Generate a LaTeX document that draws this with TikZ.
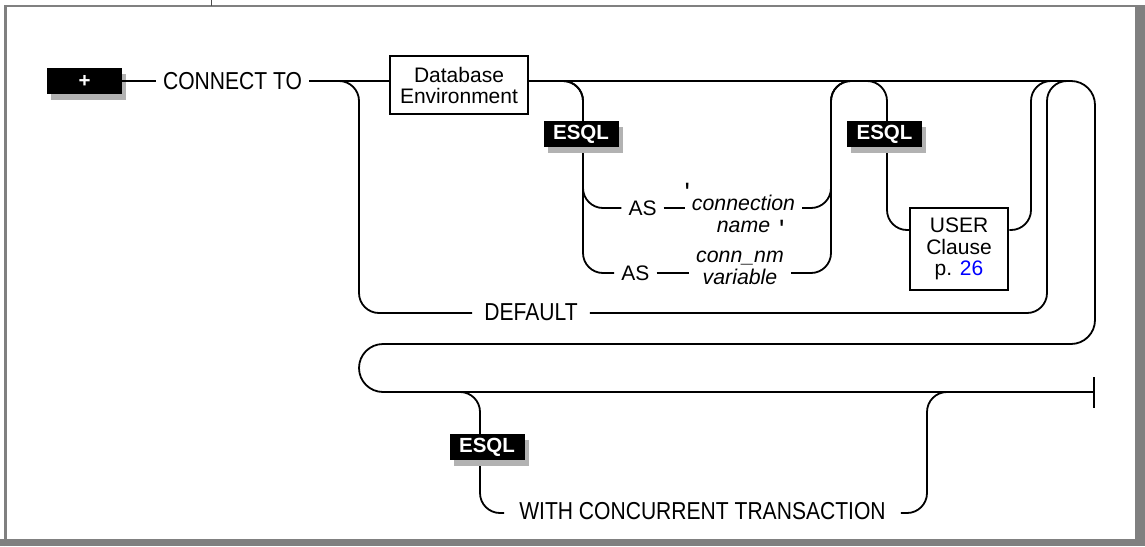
\documentclass[tikz,border=0pt]{standalone}
\usepackage{fontspec}
\setmainfont{Liberation Sans}
\newfontfamily\kwfont{Liberation Sans}[FakeStretch=0.86]
\usepackage{tikz}
\usetikzlibrary{calc,shadows}
\begin{document}
\begin{tikzpicture}[x=1pt,y=-1pt,font=\fontsize{21}{22}\selectfont,
rail/.style={line width=1.8pt,rounded corners=20pt},
kw/.style={inner xsep=7pt,inner ysep=0pt,font=\kwfont\fontsize{24.5}{26}\selectfont},
opt/.style={inner xsep=7pt,inner ysep=0pt},
var/.style={opt,font=\fontsize{21.3}{22}\selectfont\itshape,align=center},
blk/.style={fill=black,text=white,font=\fontsize{20.5}{22}\selectfont\bfseries,minimum width=75pt,minimum height=26pt,inner sep=0pt,general shadow={fill=black!30,shadow xshift=4pt,shadow yshift=-6pt}},
box/.style={draw,line width=2.5pt,align=center,inner sep=0pt}]
\useasboundingbox(0,0)rectangle(1145,546);
\draw[gray,line width=2.5pt](5.5,546)--(5.5,6)--(1140,6);\fill[gray](1135,5)rectangle(1145,546);\fill[gray](0,539)rectangle(1145,546);
\draw[gray!60!black,line width=1pt](211.7,0)--(211.7,6);
\node[blk](plus)at(84.5,81){+};\node[kw](ct)at(232.5,81){CONNECT TO};
\node[box,minimum width=138pt,minimum height=58pt,font=\fontsize{21}{21}\selectfont](db)at(459,85){Database\\Environment};
\node[opt](as1)at(642.5,208){AS};\node[var](cname)at(743.5,211){\llap{\upshape\fontsize{28}{28}\selectfont\raisebox{.28em}{\textquotesingle}\hspace{2pt}}connection\\name\rlap{\hspace{9pt}\upshape\fontsize{28}{28}\selectfont\raisebox{-.25em}{\textquotesingle}}};
\node[opt](as2)at(635.3,273){AS};\node[var](cvar)at(740,267.5){conn\_nm\\variable};
\node[box,minimum width=98pt,minimum height=82pt,font=\fontsize{21}{21.5}\selectfont](user)at(959,249){USER\\Clause\\p. \textcolor{blue}{26}};
\node[kw,inner xsep=12pt](dflt)at(531,312){DEFAULT};\node[kw,inner xsep=15pt](wct)at(702.5,511){WITH CONCURRENT TRANSACTION};
\coordinate(endp)at(1094,392);
\draw[rail](plus)--(ct);\draw[rail](ct)--(ct-|db.west);
\draw[rail](ct.east)-|(359,313)--(dflt.west|-0,313);\draw[rail](dflt.east|-0,313)-|(1047,81)--(1071,81);
\draw[rail,rounded corners=24pt](db.east|-ct)-|(1095,344)-|(359,392)--(endp);
\draw[rail](db.east|-ct)-|(583,208)--(as1);\draw[rail](db.east|-ct)-|(583,273)--(as2);
\draw[rail](as1)--(as1-|cname.west);\draw[rail](as2)--(as2-|cvar.west);
\draw[rail](cname.east|-as1)-|(831,81)--(855,81);\draw[rail](cvar.east|-as2)-|(831,81)--(855,81);
\draw[rail](db.east|-ct)-|(887,230)--([yshift=19pt]user.west);\draw[rail]([yshift=19pt]user.east)-|(1031,81)--(1055,81);
\draw[rail](420,392)-|(480,513)--(wct.west|-0,513);\draw[rail](wct.east|-0,513)-|(927,392)--(950,392);
\draw[line width=1.8pt]([yshift=15pt]endp)--([yshift=-16pt]endp);
\node[blk](esqlA)at(581,134){ESQL};\node[blk](esqlB)at(884.5,134){ESQL};\node[blk](esqlC)at(487,447){ESQL};
\end{tikzpicture}
\end{document}
